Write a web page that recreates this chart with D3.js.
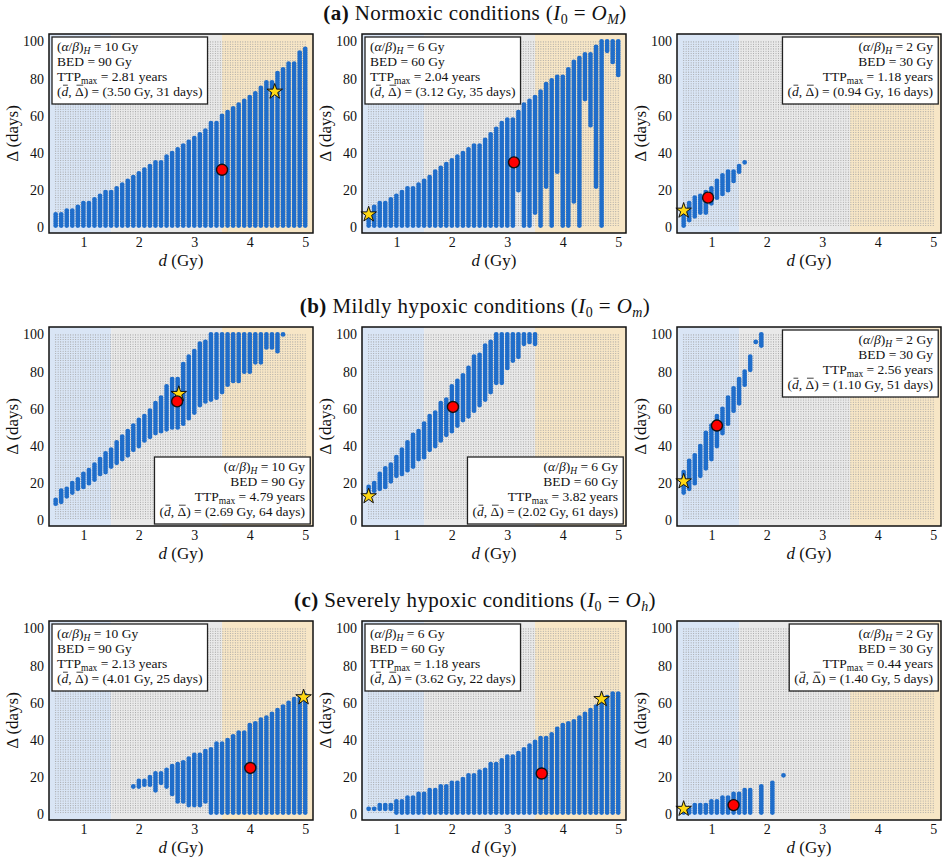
<!DOCTYPE html>
<html>
<head>
<meta charset="utf-8">
<script src="https://cdn.jsdelivr.net/npm/d3@7"></script>
<style>
  body { margin: 0; background: #fff; }
  text { font-family: "Liberation Serif", "DejaVu Serif", serif; fill: #111; }
</style>
</head>
<body>
<svg id="fig" width="950" height="861"></svg>
<script>
// --- données ---
const panelLetters = ["(a)", "(b)", "(c)"];
const conditions = ["Normoxic conditions", "Mildly hypoxic conditions", "Severely hypoxic conditions"];
const oxySub = ["M", "m", "h"];
const abRatio = [10, 6, 2];
const bedValues = [90, 60, 30];
const ttpMax = [[2.81, 2.04, 1.18], [4.79, 3.82, 2.56], [2.13, 1.18, 0.44]];
const optimum = [[[3.50, 31], [3.12, 35], [0.94, 16]],
                 [[2.69, 64], [2.02, 61], [1.10, 51]],
                 [[4.01, 25], [3.62, 22], [1.40, 5]]];
const starPts = [[[4.45, 73], [0.5, 7], [0.5, 9]],
                 [[2.72, 68], [0.5, 13], [0.5, 21]],
                 [[4.97, 63], [4.7, 62], [0.5, 3]]];
const legendPos = [["tl", "tl", "tr"], ["br", "br", "tr"], ["tl", "tl", "tr"]];
const xTicks = [1, 2, 3, 4, 5];
const yTicks = [0, 20, 40, 60, 80, 100];
const zoneEdges = [1.5, 3.5];

// grille de calcul (points gris)
const gridD = d3.range(0, 101).map(i => 0.5 + i * 0.045);
const gridDelta = d3.range(0, 80).map(i => 1 + i * 1.25);

// régions admissibles : [d, Δ min, Δ max]
const bandA1 = [[0.5,1,7],[0.6,1,7],[0.7,1,9],[0.8,1,9],[0.9,1,11],[1.0,1,13],[1.1,1,13],[1.2,1,15],[1.3,1,17],[1.4,1,19],
  [1.5,1,19],[1.6,1,21],[1.7,1,23],[1.8,1,25],[1.9,1,27],[2.0,1,29],[2.1,1,31],[2.2,1,33],[2.3,1,35],[2.4,1,35],
  [2.5,1,38],[2.6,1,40],[2.7,1,42],[2.8,1,44],[2.9,1,46],[3.0,1,48],[3.1,1,50],[3.2,1,52],[3.3,1,56],[3.4,1,56],
  [3.5,1,60],[3.6,1,62],[3.7,1,64],[3.8,1,66],[3.9,1,68],[4.0,1,70],[4.1,1,72],[4.2,1,75],[4.3,1,78],[4.4,1,78],
  [4.5,1,83],[4.6,1,85],[4.7,1,88],[4.8,1,88],[4.9,1,94],[5.0,1,96]];
const bandA2 = [[0.5,1,7],[0.6,1,11],[0.7,1,13],[0.8,1,13],[0.9,1,15],[1.0,1,17],[1.1,1,19],[1.2,1,21],[1.3,1,21],[1.4,1,23],
  [1.5,1,25],[1.6,1,27],[1.7,1,30],[1.8,1,32],[1.9,1,34],[2.0,1,36],[2.1,1,38],[2.2,1,40],[2.3,1,42],[2.4,1,44],
  [2.5,1,44],[2.6,1,47],[2.7,1,50],[2.8,1,53],[2.9,1,56],[3.0,1,58],[3.1,1,58],[3.2,20,62],[3.3,1,66],[3.4,1,68],
  [3.5,8,70],[3.6,1,73],[3.7,22,77],[3.8,1,79],[3.9,30,81],[4.0,1,81],[4.1,1,85],[4.2,14,89],[4.3,1,91],[4.4,69,93],
  [4.5,55,93],[4.6,22,97],[4.7,1,100],[4.8,95,100],[4.9,89,100],[5.0,82,100]];
const bandA3 = [[0.5,1,8],[0.6,4,13],[0.7,6,16],[0.8,8,17],[0.9,8,19],[1.0,13,21],[1.1,16,25],[1.2,18,28],[1.3,20,30],
  [1.4,25,30],[1.5,30,33],[1.6,35,35]];
const bandB1 = [[0.5,9,11],[0.6,10,16],[0.7,13,17],[0.8,15,20],[0.9,17,22],[1.0,18,25],[1.1,20,27],[1.2,22,30],[1.3,25,33],
  [1.4,26,36],[1.5,29,38],[1.6,31,42],[1.7,33,45],[1.8,35,48],[1.9,38,51],[2.0,40,54],[2.1,43,56],[2.2,45,59],[2.3,47,63],
  [2.4,48,66],[2.5,49,72],[2.6,50,76],[2.7,50,76],[2.8,52,84],[2.9,55,88],[3.0,58,91],[3.1,62,95],[3.2,64,96],[3.3,65,100],
  [3.4,66,100],[3.5,69,100],[3.6,73,100],[3.7,75,100],[3.8,75,100],[3.9,80,100],[4.0,80,100],[4.1,85,100],[4.2,85,100],
  [4.3,93,100],[4.4,93,100],[4.5,91,100],[4.6,100,100]];
const bandB2 = [[0.5,15,18],[0.6,16,20],[0.7,17,25],[0.8,18,28],[0.9,21,30],[1.0,24,34],[1.1,25,38],[1.2,27,42],[1.3,29,46],
  [1.4,33,48],[1.5,34,52],[1.6,38,56],[1.7,40,58],[1.8,43,63],[1.9,46,65],[2.0,48,72],[2.1,51,75],[2.2,54,78],[2.3,56,82],
  [2.4,59,88],[2.5,62,89],[2.6,65,94],[2.7,69,96],[2.8,74,100],[2.9,74,100],[3.0,82,100],[3.1,86,100],[3.2,88,100],
  [3.3,95,100],[3.4,96,100],[3.5,95,100]];
const bandB3 = [[0.5,15,26],[0.6,17,32],[0.7,20,35],[0.8,24,40],[0.9,28,47],[1.0,33,51],[1.1,40,56],[1.2,47,60],[1.3,52,66],
  [1.4,59,71],[1.5,63,76],[1.6,73,80],[1.7,81,88],[1.8,96,96],[1.9,94,100]];
const bandC1 = [[1.9,15,15],[2.0,15,18],[2.1,16,18],[2.2,16,20],[2.3,13,22],[2.4,17,22],[2.5,15,24],[2.6,11,26],[2.7,7,27],
  [2.8,7,28],[2.9,5,30],[3.0,5,32],[3.1,5,32],[3.2,7,34],[3.3,1,35],[3.4,1,38],[3.5,1,38],[3.6,1,40],[3.7,1,42],[3.8,1,44],
  [3.9,1,44],[4.0,1,48],[4.1,1,49],[4.2,1,51],[4.3,1,52],[4.4,1,54],[4.5,1,56],[4.6,1,58],[4.7,1,60],[4.8,1,62],[4.9,1,62],
  [5.0,1,64]];
const bandC2 = [[0.5,3,3],[0.6,3,3],[0.7,3,5],[0.8,3,5],[0.9,3,5],[1.0,1,7],[1.1,1,7],[1.2,1,9],[1.3,1,9],[1.4,1,11],
  [1.5,1,11],[1.6,1,13],[1.7,1,13],[1.8,1,15],[1.9,1,15],[2.0,1,17],[2.1,1,17],[2.2,1,19],[2.3,1,21],[2.4,1,21],[2.5,1,23],
  [2.6,1,24],[2.7,1,27],[2.8,1,27],[2.9,1,29],[3.0,1,31],[3.1,1,31],[3.2,1,33],[3.3,1,35],[3.4,1,37],[3.5,1,39],[3.6,1,41],
  [3.7,1,41],[3.8,1,43],[3.9,1,46],[4.0,1,48],[4.1,1,49],[4.2,1,50],[4.3,1,52],[4.4,1,54],[4.5,1,56],[4.6,1,58],[4.7,1,61],
  [4.8,1,63],[4.9,1,65],[5.0,1,65]];
const bandC3 = [[0.5,1,3],[0.6,1,3],[0.7,1,5],[0.8,1,5],[0.9,1,5],[1.0,1,7],[1.1,1,7],[1.2,1,9],[1.3,1,9],[1.4,1,11],
  [1.5,1,11],[1.6,1,13],[1.7,1,13],[1.9,1,15],[2.1,1,17],[2.3,21,21]];
const bands = [[bandA1, bandA2, bandA3], [bandB1, bandB2, bandB3], [bandC1, bandC2, bandC3]];

// --- mise en page ---
const colX = [49, 362, 677], rowY = [34, 327, 621];
const pw = 264, ph = 199;
const dDomain = [0.38, 5.14], delDomain = [-3, 104];
const zoneFill = ["#d9e5f5", "#e9e9e9", "#f7e6c6"];
const serif = '"Liberation Serif", "DejaVu Serif", serif';
const legendFont = 13.5;

const svg = d3.select("#fig");

// titres des lignes
rowY.forEach((y0, r) => {
  const t = svg.append("text").attr("x", 475).attr("y", y0 - 14)
    .attr("text-anchor", "middle").attr("font-size", 21).attr("letter-spacing", 0.4);
  t.append("tspan").attr("font-weight", "bold").text(panelLetters[r]);
  t.append("tspan").text(` ${conditions[r]} (`);
  t.append("tspan").attr("font-style", "italic").text("I");
  t.append("tspan").attr("font-size", 14).attr("dy", 4).text("0");
  t.append("tspan").attr("dy", -4).text(" = ");
  t.append("tspan").attr("font-style", "italic").text("O");
  t.append("tspan").attr("font-size", 14).attr("font-style", "italic").attr("dy", 4).text(oxySub[r]);
  t.append("tspan").attr("dy", -4).text(")");
});

// style : "i" italique, "sub" indice, "subi" indice italique, "bar"/"bari" barre au-dessus
function legendLines(r, c) {
  const [od, ov] = optimum[r][c];
  return [
    [["(", ""], ["α", "i"], ["/", ""], ["β", "i"], [")", ""], ["H", "subi"], [` = ${abRatio[c]} Gy`, ""]],
    [[`BED = ${bedValues[c]} Gy`, ""]],
    [["TTP", ""], ["max", "sub"], [` = ${ttpMax[r][c].toFixed(2)} years`, ""]],
    [["(", ""], ["d", "bari"], [", ", ""], ["\u0394", "bar"], [`) = (${od.toFixed(2)} Gy, ${ov} days)`, ""]]
  ];
}

function drawPanel(r, c) {
  const x = d3.scaleLinear().domain(dDomain).range([colX[c], colX[c] + pw]);
  const y = d3.scaleLinear().domain(delDomain).range([rowY[r] + ph, rowY[r]]);
  const g = svg.append("g");

  // zones de fond
  const edges = [dDomain[0], ...zoneEdges, dDomain[1]];
  g.selectAll("rect.zone").data(d3.pairs(edges)).enter().append("rect")
    .attr("class", "zone")
    .attr("x", d => x(d[0])).attr("width", d => x(d[1]) - x(d[0]))
    .attr("y", y(delDomain[1])).attr("height", y(delDomain[0]) - y(delDomain[1]))
    .attr("fill", (d, i) => zoneFill[i]);

  // grille grise
  let p = "";
  gridD.forEach(d => gridDelta.forEach(v => { p += `M${x(d).toFixed(2)},${y(v).toFixed(2)}h0`; }));
  g.append("path").attr("d", p).attr("fill", "none")
    .attr("stroke", "#a3a3a3").attr("stroke-width", 1.1).attr("stroke-linecap", "round");

  // points admissibles
  let q = "";
  bands[r][c].forEach(([d, lo, hi]) => {
    for (let v = lo; v <= hi + 1e-9; v += 1) q += `M${x(d).toFixed(2)},${y(v).toFixed(2)}h0`;
  });
  g.append("path").attr("d", q).attr("fill", "none")
    .attr("stroke", "#1f6dca").attr("stroke-width", 4.8).attr("stroke-linecap", "round");

  // optimum et étoile
  const [sd, sv] = starPts[r][c];
  g.append("path").attr("d", d3.symbol(d3.symbolStar, 75)())
    .attr("transform", `translate(${x(sd)},${y(sv)})`)
    .attr("fill", "#ffd814").attr("stroke", "#111").attr("stroke-width", 1);
  const [od, ov] = optimum[r][c];
  g.append("circle").attr("cx", x(od)).attr("cy", y(ov)).attr("r", 5.5)
    .attr("fill", "#f00").attr("stroke", "#111").attr("stroke-width", 1.4);

  // encadré
  const pos = legendPos[r][c];
  const lg = g.append("g");
  const anchor = pos === "tl" ? "start" : "end";
  const tx = pos === "tl" ? colX[c] + 8 : colX[c] + pw - 8;
  const boxH = 67;
  const boxTop = pos === "br" ? rowY[r] + ph - 2 - boxH : rowY[r] + 3;
  legendLines(r, c).forEach((parts, i) => {
    const base = boxTop + 14 + i * 15;
    const t = lg.append("text").attr("x", tx).attr("y", base)
      .attr("text-anchor", anchor).attr("font-size", legendFont);
    let shift = 0, idx = 0;
    const barIdx = [];
    parts.forEach(([s, st]) => {
      const sp = t.append("tspan").text(s);
      const sub = st.startsWith("sub");
      const target = sub ? 2.5 : 0;
      if (target !== shift) { sp.attr("dy", target - shift); shift = target; }
      if (sub) sp.attr("font-size", 9.5);
      if (st.endsWith("i")) sp.attr("font-style", "italic");
      if (st.startsWith("bar")) barIdx.push(idx);
      idx += s.length;
    });
    barIdx.forEach(k => {
      const e = t.node().getExtentOfChar(k);
      lg.append("line")
        .attr("x1", e.x + 1.5).attr("x2", e.x + e.width - 0.5)
        .attr("y1", base - legendFont * 0.8).attr("y2", base - legendFont * 0.8)
        .attr("stroke", "#111").attr("stroke-width", 0.8);
    });
  });
  const bb = lg.node().getBBox();
  lg.insert("rect", ":first-child")
    .attr("x", bb.x - 5).attr("y", boxTop).attr("width", bb.width + 10).attr("height", boxH)
    .attr("fill", "#fff").attr("stroke", "#222").attr("stroke-width", 1.3);

  // cadre
  g.append("rect").attr("x", colX[c]).attr("y", rowY[r]).attr("width", pw).attr("height", ph)
    .attr("fill", "none").attr("stroke", "#111").attr("stroke-width", 1.5);

  // axes
  const ax = g.append("g").attr("transform", `translate(0,${rowY[r] + ph})`)
    .call(d3.axisBottom(x).tickValues(xTicks).tickFormat(d3.format("d")).tickSize(0).tickPadding(4));
  const ay = g.append("g").attr("transform", `translate(${colX[c]},0)`)
    .call(d3.axisLeft(y).tickValues(yTicks).tickFormat(d3.format("d")).tickSize(0).tickPadding(5));
  [ax, ay].forEach(a => {
    a.select(".domain").remove();
    a.attr("font-family", serif).attr("font-size", 14);
    a.selectAll("text").style("font-family", serif).attr("fill", "#111");
  });

  // titres des axes
  const xl = g.append("text").attr("x", colX[c] + pw / 2).attr("y", rowY[r] + ph + 33)
    .attr("text-anchor", "middle").attr("font-size", 17);
  xl.append("tspan").attr("font-style", "italic").text("d");
  xl.append("tspan").text(" (Gy)");
  g.append("text").attr("transform", `translate(${colX[c] - 31},${rowY[r] + ph / 2}) rotate(-90)`)
    .attr("text-anchor", "middle").attr("font-size", 17).text("Δ (days)");
}

for (let r = 0; r < 3; r++) for (let c = 0; c < 3; c++) drawPanel(r, c);
</script>
</body>
</html>
